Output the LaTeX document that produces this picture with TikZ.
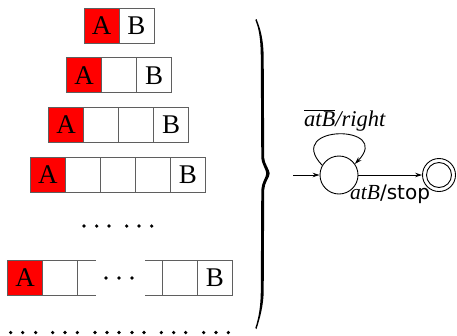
\documentclass[tikz,border=0pt]{standalone}
\usepackage{fontspec}
\setmainfont{Liberation Serif}
\newfontfamily\labsans{DejaVu Sans}
\usetikzlibrary{arrows.meta}
\definecolor{cellgray}{RGB}{95,95,95}
\begin{document}
\begin{tikzpicture}[x=1pt,y=-1pt,
  cell/.style={draw=cellgray, line width=1pt, minimum width=35pt, minimum height=35pt,
    inner sep=0pt, outer sep=0pt, anchor=north west, font=\fontsize{27}{27}\selectfont},
  redcell/.style={cell, fill=red},
  state/.style={circle, draw, line width=0.9pt, inner sep=0pt},
  arr/.style={-{Stealth[length=7pt,width=4.5pt]}, line width=0.9pt},
  dot/.style={circle, fill, inner sep=0pt, minimum size=3.6pt},
  cellline/.style={draw=cellgray, line width=1pt}]
\useasboundingbox (0,0) rectangle (457,335);
% row 1
\node[redcell] (r1a) at (84,8) {A};
\node[cell] (r1b) at (r1a.north east) {B};
% row 2
\node[redcell] (r2a) at (66.7,57.7) {A};
\node[cell] (r2b) at (r2a.north east) {};
\node[cell] (r2c) at (r2b.north east) {B};
% row 3
\node[redcell] (r3a) at (48.7,107.3) {A};
\node[cell] (r3b) at (r3a.north east) {};
\node[cell] (r3c) at (r3b.north east) {};
\node[cell] (r3d) at (r3c.north east) {B};
% row 4
\node[redcell] (r4a) at (30.3,157) {A};
\node[cell] (r4b) at (r4a.north east) {};
\node[cell] (r4c) at (r4b.north east) {};
\node[cell] (r4d) at (r4c.north east) {};
\node[cell] (r4e) at (r4d.north east) {B};
% dots
\foreach \x in {84,96.7,109,126.7,139,151.7} \node[dot] at (\x,226) {};
% row 5
\node[redcell] (r5a) at (7.7,260) {A};
\node[cell] (r5b) at (r5a.north east) {};
\coordinate (r5e1) at (96,260);
\coordinate (r5e2) at (96,295);
\draw[cellline] (r5b.north east) -- (r5e1);
\draw[cellline] (r5b.south east) -- (r5e2);
\node[cell] (r5y) at (162.3,260) {};
\node[cell] (r5z) at (r5y.north east) {B};
\coordinate (r5s1) at (145,260);
\coordinate (r5s2) at (145,295);
\draw[cellline] (r5s1) -- (r5y.north west);
\draw[cellline] (r5s2) -- (r5y.south west);
\foreach \x in {106,119,132} \node[dot] at (\x,278) {};
% bottom dots
\foreach \x in {10.7,22.7,35.7,52.7,65,77.3,95,107,119,132,144,161.3,173.7,185.7,203.7,216,228.3}
  \node[dot] at (\x,332.5) {};
% brace
\fill (256.5,19) .. controls (260,28) and (263.7,38) .. (263.7,60) -- (264.2,158)
  .. controls (264.2,163) and (269.7,170) .. (269.7,173.5)
  .. controls (269.7,177) and (264.2,183) .. (264.2,190) -- (263.7,290)
  .. controls (263.7,305) and (260,318) .. (256.5,329)
  -- (255.3,328) .. controls (258.8,318) and (260.8,305) .. (260.8,290) -- (261.3,190)
  .. controls (261.3,183) and (266.3,177) .. (266.3,173.5)
  .. controls (266.3,170) and (261.3,163) .. (261.3,158) -- (260.8,60)
  .. controls (260.8,38) and (258.8,28) .. (255.3,20) -- cycle;
% automaton
\node[state, minimum size=38pt] (q0) at (339,175) {};
\node[state, minimum size=33pt] (qf) at (439,175) {};
\node[state, minimum size=25pt] (qfin) at (qf) {};
\coordinate (init) at (293,175);
\draw[arr] (init) -- (q0);
\draw[arr] (q0) -- (qf);
\draw[arr] (q0.150) .. controls (283,124) and (394,124) .. (q0.35);
\node[font=\fontsize{22.5}{22}\selectfont, anchor=base, inner sep=0pt] (lloop) at (345,126)
  {$\overline{\mbox{\textit{atB}}}$\textit{/right}};
\node[anchor=base west, inner sep=0pt] (lstop) at (350,199)
  {\fontsize{21.5}{22}\selectfont\textit{atB}\labsans\fontsize{20}{22}\selectfont/stop};
\end{tikzpicture}
\end{document}
